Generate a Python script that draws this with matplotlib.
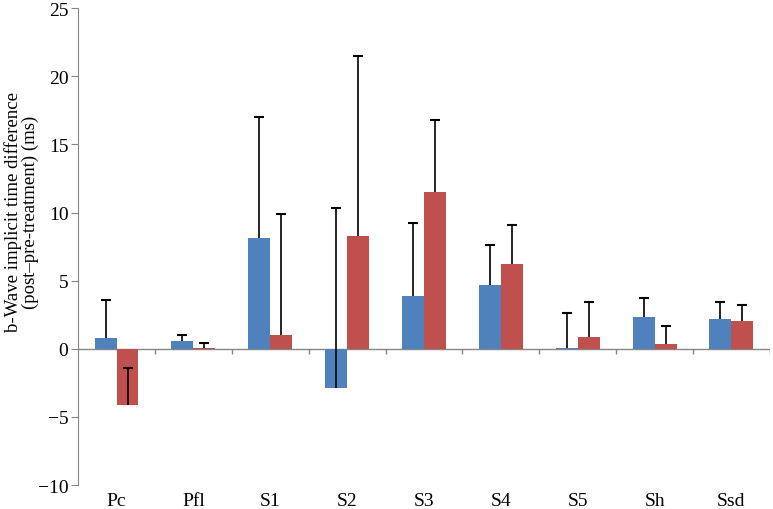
import numpy as np
import matplotlib.pyplot as plt

# values
groups = ["Pc", "Pfl", "S1", "S2", "S3", "S4", "S5", "Sh", "Ssd"]
blueMeans = [0.8, 0.6, 8.1, -2.85, 3.9, 4.7, 0.05, 2.35, 2.15]
blueErr = [2.8, 0.4, 8.9, 13.15, 5.3, 2.9, 2.55, 1.35, 1.25]
redMeans = [-4.1, 0.05, 1.0, 8.3, 11.5, 6.2, 0.9, 0.35, 2.05]
redErr = [2.7, 0.4, 8.9, 13.2, 5.3, 2.9, 2.5, 1.35, 1.2]
yTicks = [-10, -5, 0, 5, 10, 15, 20, 25]

plt.rcParams["font.family"] = ["Liberation Serif", "DejaVu Serif"]

fig = plt.figure(figsize=(7.73, 5.10), dpi=100)
ax = fig.add_axes([0.101, 0.047, 0.895, 0.935])

x = np.arange(len(groups))
w = 0.286
gray = "#868686"


def drawSeries(pos, means, errs, color):
    means = np.array(means)
    errs = np.array(errs)
    ax.bar(pos, means, w, color=color, zorder=2)
    # one-sided error bars, cap only at the upper end
    ax.errorbar(pos, means, yerr=[np.zeros(len(means)), errs], fmt="none",
                ecolor="black", elinewidth=1.2, capsize=0, zorder=3)
    ax.plot(pos, means + errs, ls="none", marker="_", ms=7, mew=1.5,
            color="black", zorder=3)


drawSeries(x - w/2, blueMeans, blueErr, "#4F81BD")
drawSeries(x + w/2, redMeans, redErr, "#C0504D")

# category axis drawn at zero with tick marks between groups
ax.axhline(0, color=gray, lw=1, zorder=1)
bounds = np.arange(len(groups)) + 0.5
ax.vlines(bounds, 0, -0.35, color=gray, lw=1, zorder=1)

ax.set_xlim(-0.5, len(groups) - 0.5)
ax.set_ylim(-10, 25)
ax.set_yticks(yTicks)
ax.set_yticklabels([str(t).replace("-", "\u2212") for t in yTicks])
ax.set_xticks(x)
ax.set_xticklabels(groups)
ax.tick_params(axis="x", length=0, pad=5, labelsize=14)
ax.tick_params(axis="y", length=5, color=gray, labelsize=14, pad=2)

for s in ["top", "right", "bottom"]:
    ax.spines[s].set_visible(False)
ax.spines["left"].set_color(gray)

ax.set_ylabel("b-Wave implicit time difference\n(post\u2013pre-treatment) (ms)",
              fontsize=13.5, linespacing=1.0, va="center")
ax.yaxis.set_label_coords(-0.082, 0.574)

fig.savefig("out.png", dpi=100)
